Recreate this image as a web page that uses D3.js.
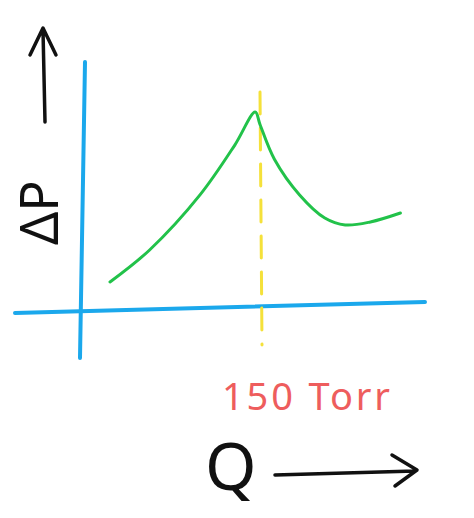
<!DOCTYPE html>
<html>
<head>
<meta charset="utf-8">
<script src="https://cdn.jsdelivr.net/npm/d3@7"></script>
<style>
body { margin: 0; background: #fff; }
</style>
</head>
<body>
<div id="chart"></div>
<script>
// sketch of pressure drop vs flow
const WIDTH = 474;
const HEIGHT = 518;

// curve values (Q, ΔP relative)
const Q_VALUES = [25, 58, 100, 129, 146, 150, 162, 183, 204, 221, 242, 267];
const DP_VALUES = [0.105, 0.234, 0.456, 0.657, 0.79, 0.74, 0.6, 0.456, 0.363, 0.335, 0.347, 0.383];
const MARK_Q = 150;
const MARK_LABEL = "150 Torr";

const X = d3.scaleLinear().domain([0, 300]).range([80, 440]);
const Y = d3.scaleLinear().domain([0, 1]).range([308, 60]);

const svg = d3.select("#chart").append("svg")
	.attr("width", WIDTH).attr("height", HEIGHT);

const pen = (sel, col, w) => sel.attr("fill", "none").attr("stroke", col)
	.attr("stroke-width", w).attr("stroke-linecap", "round").attr("stroke-linejoin", "round");

// axes (hand drawn, slightly tilted)
svg.append("line").attr("x1", 85).attr("y1", 62).attr("x2", 80).attr("y2", 358).call(pen, "#1ba8ec", 4);
svg.append("line").attr("x1", 15).attr("y1", 313).attr("x2", 425).attr("y2", 302).call(pen, "#1ba8ec", 4);

// dashed marker
svg.append("line")
	.attr("x1", X(MARK_Q)).attr("y1", 92).attr("x2", X(MARK_Q) + 2).attr("y2", 345)
	.call(pen, "#f5e13a", 3).attr("stroke-dasharray", "22 14");

// curve
const line = d3.line().x((d, i) => X(Q_VALUES[i])).y((d) => Y(d)).curve(d3.curveCatmullRom);
svg.append("path").attr("d", line(DP_VALUES)).call(pen, "#22c24a", 3);

// label under marker
svg.append("text").attr("x", 222).attr("y", 410)
	.attr("font-family", "Noto Sans").attr("font-size", 38).attr("fill", "#ee5d5d")
	.attr("textLength", 168).text(MARK_LABEL);

// ΔP with arrow
svg.append("text").attr("transform", "translate(58,245) rotate(-90)")
	.attr("font-family", "Noto Sans").attr("font-size", 52).attr("fill", "#111").text("ΔP");
svg.append("path").attr("d", "M45,122 L43,30 M30,55 L43,28 L56,55").call(pen, "#111", 3.5);

// Q with arrow
svg.append("text").attr("x", 205).attr("y", 490)
	.attr("font-family", "Noto Sans").attr("font-size", 66).attr("fill", "#111").text("Q");
svg.append("path").attr("d", "M275,475 L415,471 M392,455 L417,470 L395,486").call(pen, "#111", 3.5);
</script>
</body>
</html>
